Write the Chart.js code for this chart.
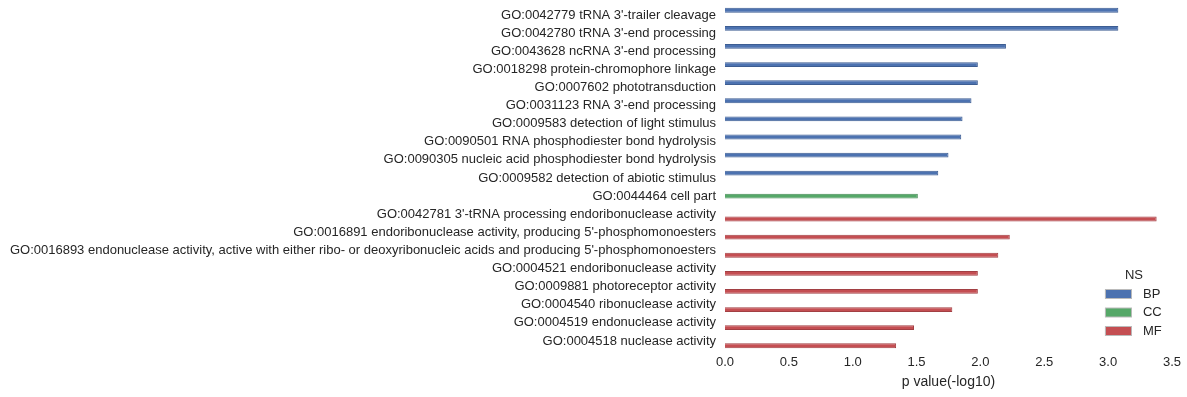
<!DOCTYPE html>
<html>
<head>
<meta charset="utf-8">
<script src="https://cdn.jsdelivr.net/npm/chart.js@4"></script>
<style>
  body { margin: 0; background: #fff; }
  #wrap { width: 1187px; height: 397px; }
</style>
</head>
<body>
<div id="wrap"><canvas id="goChart" width="1187" height="397"></canvas></div>
<script>
var terms = [
    'GO:0042779 tRNA 3\'-trailer cleavage',
    'GO:0042780 tRNA 3\'-end processing',
    'GO:0043628 ncRNA 3\'-end processing',
    'GO:0018298 protein-chromophore linkage',
    'GO:0007602 phototransduction',
    'GO:0031123 RNA 3\'-end processing',
    'GO:0009583 detection of light stimulus',
    'GO:0090501 RNA phosphodiester bond hydrolysis',
    'GO:0090305 nucleic acid phosphodiester bond hydrolysis',
    'GO:0009582 detection of abiotic stimulus',
    'GO:0044464 cell part',
    'GO:0042781 3\'-tRNA processing endoribonuclease activity',
    'GO:0016891 endoribonuclease activity, producing 5\'-phosphomonoesters',
    'GO:0016893 endonuclease activity, active with either ribo- or deoxyribonucleic acids and producing 5\'-phosphomonoesters',
    'GO:0004521 endoribonuclease activity',
    'GO:0009881 photoreceptor activity',
    'GO:0004540 ribonuclease activity',
    'GO:0004519 endonuclease activity',
    'GO:0004518 nuclease activity'
];
// namespace of each term
var ns = ['BP', 'BP', 'BP', 'BP', 'BP', 'BP', 'BP', 'BP', 'BP', 'BP',
          'CC',
          'MF', 'MF', 'MF', 'MF', 'MF', 'MF', 'MF', 'MF'];
var pvals = [3.08, 3.08, 2.20, 1.98, 1.98, 1.93, 1.86, 1.85, 1.75, 1.67,
             1.51,
             3.38, 2.23, 2.14, 1.98, 1.98, 1.78, 1.48, 1.34];
var groups = ['BP', 'CC', 'MF'];
var xTicks = [0, 0.5, 1, 1.5, 2, 2.5, 3, 3.5];

var fills = { BP: '#4c72b0', CC: '#55a868', MF: '#c44e52' };
var edges = { BP: '#3d5d92', CC: '#458a55', MF: '#a23f43' };

Chart.defaults.font.family = '"Liberation Sans", Arial, sans-serif';
Chart.defaults.color = '#262626';

var datasets = groups.map(function (g) {
    return {
        label: g,
        data: pvals.map(function (v, i) { return ns[i] === g ? v : null; }),
        backgroundColor: fills[g],
        borderColor: edges[g],
        borderWidth: 1,
        categoryPercentage: 0.8,
        barPercentage: 1.0
    };
});

// seaborn-style legend inside the plot, lower right
var nsLegend = {
    id: 'nsLegend',
    afterDraw: function (chart) {
        var c = chart.ctx;
        var x = chart.chartArea.right - 67;
        var y = chart.chartArea.bottom - 75;
        c.save();
        c.font = '13px "Liberation Sans", Arial, sans-serif';
        c.fillStyle = '#262626';
        c.textBaseline = 'middle';
        c.textAlign = 'center';
        c.fillText('NS', x + 29, y);
        c.textAlign = 'left';
        groups.forEach(function (g, i) {
            var yy = y + 19 + i * 18.5;
            c.fillStyle = fills[g];
            c.fillRect(x, yy - 4.5, 27, 9);
            c.strokeStyle = '#bbbbbb';
            c.lineWidth = 1;
            c.strokeRect(x + 0.5, yy - 4.5, 26, 9);
            c.fillStyle = '#262626';
            c.fillText(g, x + 38, yy);
        });
        c.restore();
    }
};

new Chart(document.getElementById('goChart').getContext('2d'), {
    type: 'bar',
    data: { labels: terms, datasets: datasets },
    options: {
        indexAxis: 'y',
        responsive: false,
        animation: false,
        layout: { padding: { top: 6, right: 6, left: 0, bottom: 8 } },
        plugins: {
            legend: { display: false },
            tooltip: { enabled: false }
        },
        scales: {
            x: {
                min: 0,
                max: 3.5,
                afterBuildTicks: function (axis) {
                    axis.ticks = xTicks.map(function (v) { return { value: v }; });
                },
                ticks: {
                    font: { size: 13, lineHeight: 1.0 },
                    padding: 6,
                    callback: function (v) { return Number(v).toFixed(1); }
                },
                grid: { display: false, drawTicks: false },
                border: { display: false },
                title: {
                    display: true,
                    text: 'p value(-log10)',
                    font: { size: 14, lineHeight: 1.0 },
                    padding: { top: 0, bottom: 0 }
                }
            },
            y: {
                ticks: { font: { size: 13 }, padding: 9, autoSkip: false },
                grid: { display: false, drawTicks: false },
                border: { display: false },
                afterFit: function (axis) {
                    axis.width = 725;
                    axis.paddingTop = 0;
                    axis.paddingBottom = 0;
                }
            }
        }
    },
    plugins: [nsLegend]
});
</script>
</body>
</html>
